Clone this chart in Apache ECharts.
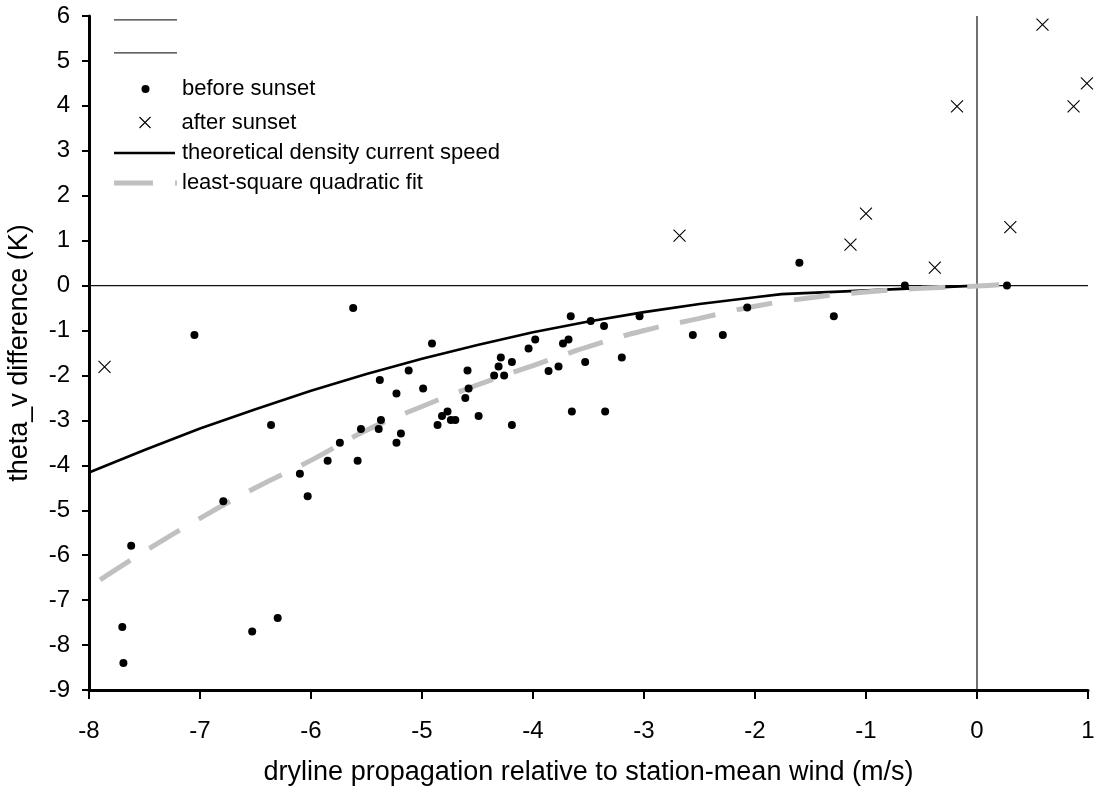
<!DOCTYPE html>
<html>
<head>
<meta charset="utf-8">
<script src="https://cdn.jsdelivr.net/npm/echarts@6/dist/echarts.min.js"></script>
<style>html,body{margin:0;padding:0;background:#fff}#c{width:1102px;height:796px}</style>
</head>
<body>
<div id="c"></div>
<script>
// before sunset observations [propagation (m/s), theta_v difference (K)]
var beforeSunset = [
  [-7.05,-1.10],[-5.62,-0.50],[-5.12,-1.89],[-5.38,-2.10],[-5.23,-2.40],[-5.37,-2.99],
  [-5.55,-3.19],[-5.39,-3.19],[-5.19,-3.29],[-5.23,-3.50],[-5.74,-3.50],[-6.36,-3.10],
  [-5.85,-3.90],[-5.58,-3.90],[-6.10,-4.19],[-6.03,-4.69],[-6.79,-4.80],[-7.62,-5.79],
  [-7.70,-7.60],[-7.69,-8.40],[-6.53,-7.70],[-6.30,-7.40],
  [-4.99,-2.29],[-4.91,-1.29],[-4.86,-3.10],[-4.82,-2.90],[-4.77,-2.80],[-4.74,-2.99],
  [-4.70,-2.99],[-4.61,-2.50],[-4.58,-2.29],[-4.59,-1.89],[-4.49,-2.90],[-4.35,-2.00],
  [-4.31,-1.80],[-4.29,-1.60],[-4.26,-2.00],[-4.19,-1.70],[-4.19,-3.10],[-4.04,-1.40],
  [-3.98,-1.20],[-3.86,-1.90],[-3.77,-1.80],[-3.73,-1.29],[-3.68,-1.20],[-3.66,-0.68],
  [-3.65,-2.80],[-3.53,-1.70],[-3.48,-0.79],[-3.36,-0.90],[-3.35,-2.80],[-3.20,-1.60],
  [-3.04,-0.68],[-2.56,-1.10],[-2.29,-1.10],[-2.07,-0.49],[-1.60,0.51],[-1.29,-0.68],
  [-0.65,0.00],[0.27,0.00]
];
// after sunset observations
var afterSunset = [
  [-7.86,-1.81],[-2.68,1.11],[-1.14,0.91],[-1.00,1.60],[-0.38,0.40],[-0.18,3.99],
  [0.30,1.30],[0.59,5.81],[0.87,3.99],[0.99,4.50]
];
// theoretical density current speed curve
var theoryX = [-8,-7.5,-7,-6.5,-6,-5.5,-5,-4.5,-4,-3.5,-3,-2.5,-2,-1.76,0];
var theoryY = [-4.16,-3.66,-3.18,-2.75,-2.34,-1.97,-1.63,-1.32,-1.04,-0.80,-0.59,-0.41,-0.26,-0.19,0];
// least-square quadratic fit
var fitX = [-7.9,-7.5,-7,-6.5,-6,-5.5,-5,-4.5,-4,-3.5,-3,-2.5,-2,-1.5,-1,-0.5,0,0.2];
var fitY = [-6.55,-5.92,-5.18,-4.50,-3.89,-3.22,-2.69,-2.21,-1.78,-1.36,-1.00,-0.73,-0.46,-0.27,-0.14,-0.06,-0.01,0.02];
// reference lines
var zeroH = [[-8,0],[1,0]];
var zeroV = [[0,-9],[0,6]];
var xTicks = [-8,-7,-6,-5,-4,-3,-2,-1,0,1];
var yTicks = [-9,-8,-7,-6,-5,-4,-3,-2,-1,0,1,2,3,4,5,6];

var names = [' ', '  ', 'before sunset', 'after sunset', 'theoretical density current speed', 'least-square quadratic fit'];
function zip(a,b){return a.map(function(v,i){return [v,b[i]];});}

var FONT = 'Liberation Sans, Arial, sans-serif';
var icons = [
  {icon:'path://M0,0M63,20M0,9.2L63,9.2L63,10.6L0,10.6Z', itemStyle:{color:'#333', borderWidth:0}},
  {icon:'path://M0,0M63,20M0,9.2L63,9.2L63,10.6L0,10.6Z', itemStyle:{color:'#333', borderWidth:0}},
  {icon:'path://M0,0M63,20M27.5,10a4,4 0 1,0 8,0a4,4 0 1,0 -8,0z', itemStyle:{color:'#000', borderWidth:0}},
  {icon:'path://M0,0M63,20M26,4.5L37,15.5M37,4.5L26,15.5', itemStyle:{color:'none', borderColor:'#000', borderWidth:1.1}},
  {icon:'path://M0,0M63,20M0,8.7L61,8.7L61,11.3L0,11.3Z', itemStyle:{color:'#000', borderWidth:0}},
  {icon:'path://M0,0M63,20M0,7.5L39,7.5L39,12.5L0,12.5ZM61,7.5L63,7.5L63,12.5L61,12.5Z', itemStyle:{color:'#c0c0c0', borderWidth:0}}
];
var legendTops = [9, 42, 78, 110, 142, 172];
var legendLefts = [114, 114, 114, 111, 114, 114];
var legends = names.map(function(n,i){
  return {
    orient:'vertical', left:legendLefts[i], top:legendTops[i], padding:0,
    itemWidth:63, itemHeight:20, selectedMode:false,
    textStyle:{fontSize:22, color:'#000', fontFamily:FONT},
    data:[Object.assign({name:n}, icons[i])]
  };
});

var chart = echarts.init(document.getElementById('c'), null, {renderer:'canvas'});
var crossPath = 'path://M0,0L10,10M10,0L0,10';
chart.setOption({
  animation:false,
  backgroundColor:'#fff',
  textStyle:{fontFamily:FONT},
  grid:{left:89,right:14,top:16,bottom:106,containLabel:false,outerBoundsMode:'none'},
  legend:legends,
  xAxis:{
    type:'value', min:-8, max:1, interval:1,
    name:'dryline propagation relative to station-mean wind (m/s)',
    nameLocation:'middle', nameGap:69,
    nameTextStyle:{fontSize:27, color:'#000', fontFamily:FONT},
    axisLine:{onZero:false, lineStyle:{color:'#000', width:3}},
    axisTick:{show:true, length:9, lineStyle:{color:'#000', width:2}},
    axisLabel:{fontSize:24, color:'#000', margin:29, fontFamily:FONT,
      formatter:function(v){return xTicks.indexOf(v)>=0 ? String(v) : '';}},
    splitLine:{show:false}
  },
  yAxis:{
    type:'value', min:-9, max:6, interval:1,
    name:'theta_v difference (K)',
    nameLocation:'middle', nameGap:56,
    nameTextStyle:{fontSize:27, color:'#000', fontFamily:FONT},
    axisLine:{onZero:false, lineStyle:{color:'#000', width:3}},
    axisTick:{show:true, length:7, lineStyle:{color:'#000', width:2}},
    axisLabel:{fontSize:24, color:'#000', margin:19, fontFamily:FONT,
      formatter:function(v){return yTicks.indexOf(v)>=0 ? String(v) : '';}},
    splitLine:{show:false}
  },
  series:[
    {name:names[0], type:'line', data:zeroV, symbol:'none', silent:true,
      lineStyle:{color:'#111', width:1.2}, itemStyle:{color:'#333'}, z:1},
    {name:names[1], type:'line', data:zeroH, symbol:'none', silent:true,
      lineStyle:{color:'#111', width:1.2}, itemStyle:{color:'#333'}, z:1},
    {name:names[2], type:'scatter', data:beforeSunset, symbol:'circle', symbolSize:8,
      itemStyle:{color:'#000', opacity:1}, z:5},
    {name:names[3], type:'scatter', data:afterSunset, symbol:crossPath, symbolSize:12,
      itemStyle:{color:'none', borderColor:'#000', borderWidth:1.1, opacity:1}, z:5},
    {name:names[4], type:'line', data:zip(theoryX,theoryY), symbol:'none', smooth:false,
      lineStyle:{color:'#000', width:2.6}, itemStyle:{color:'#000'}, z:3},
    {name:names[5], type:'line', data:zip(fitX,fitY), symbol:'none', smooth:true,
      lineStyle:{color:'#c0c0c0', width:5, type:[36,22]}, itemStyle:{color:'#c0c0c0'}, z:4}
  ]
});
</script>
</body>
</html>
